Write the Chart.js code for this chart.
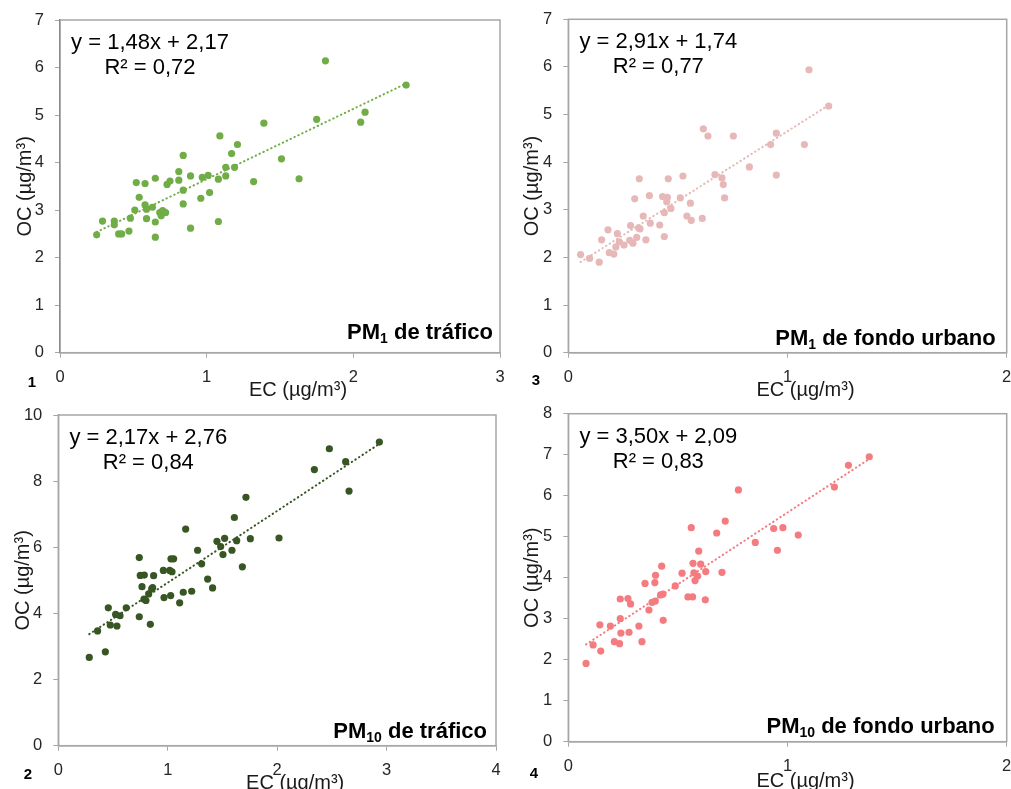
<!DOCTYPE html>
<html>
<head>
<meta charset="utf-8">
<script src="https://cdn.jsdelivr.net/npm/chart.js@4/dist/chart.umd.min.js"></script>
<style>
  html, body { margin: 0; padding: 0; background: #ffffff; }
  #wrap { position: relative; width: 1011px; height: 789px; overflow: hidden; background: #fff; }
  canvas { position: absolute; }
</style>
</head>
<body>
<div id="wrap">
  <canvas id="c1" width="505" height="402" style="left:0px;top:0px;width:505px;height:402px"></canvas>
  <canvas id="c2" width="506" height="402" style="left:505px;top:0px;width:506px;height:402px"></canvas>
  <canvas id="c3" width="505" height="394" style="left:0px;top:395px;width:505px;height:394px"></canvas>
  <canvas id="c4" width="506" height="394" style="left:505px;top:395px;width:506px;height:394px"></canvas>
</div>
<script>
// ---------------- DATA ----------------
// Panel 1: PM1 de tráfico
const ecPM1Traf = [0.25,0.29,0.37,0.37,0.40,0.42,0.47,0.48,0.51,0.52,0.54,0.58,0.58,0.59,0.59,0.63,0.65,0.65,0.65,0.68,0.69,0.70,0.72,0.73,0.75,0.81,0.81,0.84,0.84,0.84,0.89,0.89,0.96,0.97,1.01,1.02,1.08,1.08,1.09,1.13,1.13,1.17,1.19,1.21,1.32,1.39,1.51,1.63,1.75,1.81,2.05,2.08,2.36];
const ocPM1Traf = [2.48,2.77,2.77,2.69,2.50,2.50,2.56,2.83,3.00,3.58,3.27,3.11,3.56,2.82,3.02,3.06,3.67,2.75,2.43,2.95,2.88,2.99,2.95,3.54,3.61,3.63,3.81,4.15,3.42,3.13,3.72,2.62,3.25,3.69,3.73,3.37,3.65,2.76,4.56,3.72,3.90,4.19,3.90,4.38,3.60,4.83,4.08,3.66,4.91,6.14,4.85,5.06,5.63];

// Panel 3: PM1 de fondo urbano
const ecPM1Urb = [0.056,0.097,0.141,0.152,0.181,0.187,0.208,0.217,0.224,0.233,0.254,0.280,0.284,0.295,0.303,0.312,0.321,0.327,0.324,0.342,0.354,0.370,0.374,0.417,0.430,0.438,0.438,0.449,0.452,0.456,0.468,0.511,0.523,0.541,0.557,0.561,0.611,0.616,0.637,0.669,0.701,0.707,0.713,0.753,0.826,0.923,0.949,0.949,1.077,1.098,1.188];
const ocPM1Urb = [2.06,1.98,1.90,2.37,2.58,2.10,2.07,2.22,2.50,2.33,2.26,2.36,2.67,2.30,3.23,2.42,2.62,2.60,3.65,2.87,2.37,3.30,2.72,2.68,3.28,2.44,2.94,3.17,3.26,3.65,3.03,3.25,3.71,2.87,3.14,2.78,2.82,4.70,4.55,3.74,3.67,3.53,3.25,4.55,3.90,4.37,4.61,3.73,4.37,5.94,5.18];

// Panel 2: PM10 de tráfico
const ecPM10Traf = [0.283,0.359,0.430,0.457,0.475,0.524,0.536,0.564,0.621,0.740,0.740,0.749,0.765,0.786,0.783,0.801,0.826,0.841,0.853,0.862,0.871,0.960,0.966,1.018,1.027,1.039,1.030,1.054,1.109,1.142,1.164,1.219,1.273,1.310,1.365,1.410,1.450,1.484,1.505,1.520,1.587,1.609,1.630,1.682,1.715,1.755,2.017,2.340,2.477,2.626,2.657,2.934];
const ocPM10Traf = [2.67,3.47,2.84,4.17,3.65,3.97,3.62,3.93,4.17,5.69,3.90,5.15,4.81,5.16,4.43,4.39,4.59,3.67,4.74,4.78,5.14,5.30,4.48,5.30,4.54,5.26,5.65,5.65,4.32,4.64,6.55,4.67,5.91,5.50,5.04,4.77,6.18,6.02,5.78,6.27,5.91,6.90,6.20,5.41,7.51,6.26,6.28,8.35,8.98,8.59,7.70,9.18];

// Panel 4: PM10 de fondo urbano
const ecPM10Urb = [0.081,0.113,0.148,0.144,0.192,0.210,0.234,0.237,0.237,0.240,0.272,0.277,0.284,0.322,0.336,0.350,0.368,0.382,0.395,0.397,0.398,0.421,0.426,0.432,0.433,0.488,0.519,0.546,0.561,0.567,0.569,0.573,0.578,0.590,0.595,0.604,0.625,0.627,0.677,0.701,0.716,0.776,0.853,0.937,0.954,0.979,1.049,1.214,1.278,1.373];
const ocPM10Urb = [1.91,2.36,2.21,2.85,2.82,2.44,2.39,3.00,3.48,2.65,3.49,2.67,3.36,2.82,2.44,3.86,3.21,3.40,3.88,3.43,4.06,3.58,4.28,3.60,2.96,3.80,4.11,3.53,5.22,3.53,4.35,4.12,3.93,4.04,4.65,4.33,3.46,4.15,5.09,4.13,5.38,6.14,4.86,5.20,4.67,5.22,5.04,6.21,6.74,6.95];

// Trendline coefficients (as printed in each panel)
const slopes     = [1.48, 2.91, 2.17, 3.50];
const intercepts = [2.17, 1.74, 2.76, 2.09];

// Texts
const equations  = ["y = 1,48x + 2,17", "y = 2,91x + 1,74", "y = 2,17x + 2,76", "y = 3,50x + 2,09"];
const r2Texts    = ["R² = 0,72", "R² = 0,77", "R² = 0,84", "R² = 0,83"];
const labelMain  = ["PM", "PM", "PM", "PM"];
const labelSub   = ["1", "1", "10", "10"];
const labelRest  = [" de tráfico", " de fondo urbano", " de tráfico", " de fondo urbano"];
const panelNums  = ["1", "3", "2", "4"];
const xTitle = "EC (µg/m³)";
const yTitle = "OC (µg/m³)";

// Axis ranges / tick steps
const xMaxs  = [3, 2, 4, 2];
const yMaxs  = [7, 7, 10, 8];
const ySteps = [1, 1, 2, 1];

// ---------------- STYLE / LAYOUT ----------------
const FONT = '"Liberation Sans", Arial, Helvetica, sans-serif';
const pointColors = ["#70AD47", "#E6B9B8", "#375623", "#F47B80"];
const yAxisColors = ["#3a3a3a", "#a6a6a6", "#8c8c8c", "#a6a6a6"];
// plot area inside each canvas: left, top, rightPad, bottomHeight
const layouts = [
  { L: 60,   T: 20,   R: 5,   B: 49.3, yTitleX: 25, xTitleY: 390, numX: 32, numY: 383, labR: 7,  labB: 20 },
  { L: 63.3, T: 19.3, R: 4.3, B: 49.3, yTitleX: 27, xTitleY: 390, numX: 31, numY: 381, labR: 11, labB: 14 },
  { L: 58.3, T: 20,   R: 9,   B: 43.3, yTitleX: 23, xTitleY: 388, numX: 28, numY: 380, labR: 9,  labB: 14 },
  { L: 63.3, T: 18.7, R: 4.3, B: 47.3, yTitleX: 27, xTitleY: 386, numX: 29, numY: 379, labR: 12, labB: 15 }
];

const decorPlugin = {
  id: 'decor',
  beforeDatasetsDraw(chart, args, o) {
    const ctx = chart.ctx, ca = chart.chartArea;
    ctx.save();
    ctx.strokeStyle = '#a6a6a6';
    ctx.lineWidth = 1.5;
    ctx.strokeRect(ca.left, ca.top, ca.right - ca.left, ca.bottom - ca.top);
    ctx.restore();
  },
  afterDraw(chart, args, o) {
    const ctx = chart.ctx, ca = chart.chartArea;
    ctx.save();
    ctx.fillStyle = '#000';
    // equation
    ctx.font = '22px ' + FONT;
    ctx.textAlign = 'center';
    ctx.textBaseline = 'middle';
    ctx.fillText(o.eq, ca.left + 90, ca.top + 23);
    ctx.fillText(o.r2, ca.left + 90, ca.top + 48);
    // label bottom-right (with subscript)
    const fMain = 'bold 22px ' + FONT, fSub = 'bold 14px ' + FONT;
    ctx.textAlign = 'left';
    ctx.font = fMain; const wMain = ctx.measureText(o.main).width; const wRest = ctx.measureText(o.rest).width;
    ctx.font = fSub;  const wSub = ctx.measureText(o.sub).width;
    const total = wMain + wSub + wRest;
    let x = ca.right - o.labR - total;
    const yMid = ca.bottom - o.labB;
    ctx.font = fMain; ctx.fillText(o.main, x, yMid); x += wMain;
    ctx.font = fSub;  ctx.fillText(o.sub, x, yMid + 6); x += wSub;
    ctx.font = fMain; ctx.fillText(o.rest, x, yMid);
    // axis titles
    ctx.fillStyle = '#1a1a1a';
    ctx.font = '20px ' + FONT;
    ctx.textAlign = 'center';
    ctx.fillText(o.xTitle, (ca.left + ca.right) / 2 + 18, o.xTitleY);
    ctx.save();
    ctx.translate(o.yTitleX, (ca.top + ca.bottom) / 2);
    ctx.rotate(-Math.PI / 2);
    ctx.fillText(o.yTitle, 0, 0);
    ctx.restore();
    // panel number
    ctx.fillStyle = '#000';
    ctx.font = 'bold 15px ' + FONT;
    ctx.fillText(o.num, o.numX, o.numY);
    ctx.restore();
  }
};

function makeChart(canvasId, i, ec, oc) {
  const lay = layouts[i];
  const pts = ec.map((v, k) => ({ x: v, y: oc[k] }));
  const xmin = Math.min(...ec), xmax = Math.max(...ec);
  const trend = [xmin, xmax].map(v => ({ x: v, y: slopes[i] * v + intercepts[i] }));
  const tickFont = { family: FONT, size: 16.5 };
  new Chart(document.getElementById(canvasId), {
    type: 'scatter',
    data: {
      datasets: [
        { data: trend, showLine: true, pointRadius: 0, borderColor: pointColors[i],
          borderWidth: 2, borderDash: [0.5, 3.8], borderCapStyle: 'round', fill: false },
        { data: pts, pointRadius: 3.6, pointBackgroundColor: pointColors[i],
          pointBorderWidth: 0, borderColor: pointColors[i], showLine: false }
      ]
    },
    options: {
      responsive: false,
      animation: false,
      devicePixelRatio: 1,
      layout: { padding: { left: 0, top: lay.T, right: lay.R, bottom: 0 } },
      plugins: {
        legend: { display: false },
        tooltip: { enabled: false },
        decor: {
          eq: equations[i], r2: r2Texts[i], main: labelMain[i], sub: labelSub[i], rest: labelRest[i],
          num: panelNums[i], xTitle: xTitle, yTitle: yTitle,
          yTitleX: lay.yTitleX, xTitleY: lay.xTitleY, numX: lay.numX, numY: lay.numY,
          labR: lay.labR, labB: lay.labB
        }
      },
      scales: {
        x: {
          type: 'linear', min: 0, max: xMaxs[i],
          ticks: { stepSize: 1, font: tickFont, color: '#262626', padding: 10, maxRotation: 0 },
          grid: { display: true, drawOnChartArea: false, drawTicks: true, tickLength: 5, color: '#a6a6a6' },
          border: { display: true, color: '#a6a6a6', width: 1.5 },
          afterFit: s => { s.height = lay.B; s.paddingLeft = 0; s.paddingRight = 0; }
        },
        y: {
          type: 'linear', min: 0, max: yMaxs[i],
          ticks: { stepSize: ySteps[i], font: tickFont, color: '#262626', padding: 11 },
          grid: { display: true, drawOnChartArea: false, drawTicks: true, tickLength: 5, color: '#a6a6a6' },
          border: { display: true, color: yAxisColors[i], width: 1.3 },
          afterFit: s => { s.width = lay.L; s.paddingTop = 0; s.paddingBottom = 0; }
        }
      }
    },
    plugins: [decorPlugin]
  });
}

makeChart('c1', 0, ecPM1Traf, ocPM1Traf);
makeChart('c2', 1, ecPM1Urb, ocPM1Urb);
makeChart('c3', 2, ecPM10Traf, ocPM10Traf);
makeChart('c4', 3, ecPM10Urb, ocPM10Urb);
</script>
</body>
</html>
